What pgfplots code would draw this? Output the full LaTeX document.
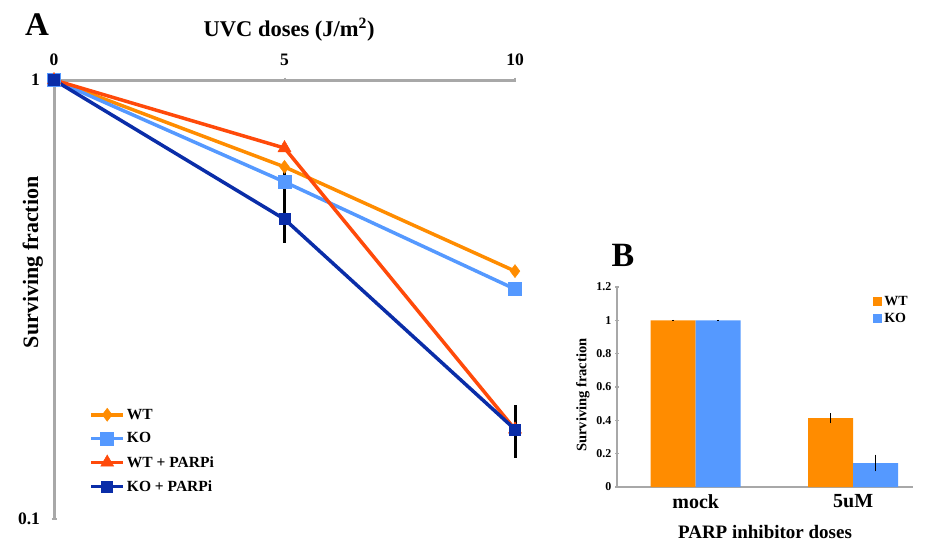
\documentclass[border=0pt]{standalone}
\usepackage{fontspec}
\setmainfont{Liberation Serif}
\usepackage{pgfplots}
\pgfplotsset{compat=1.18}
\definecolor{wt}{HTML}{FF8C00}
\definecolor{ko}{HTML}{5599FF}
\definecolor{wtp}{HTML}{FF4A0A}
\definecolor{kop}{HTML}{0A2DA8}
\definecolor{axgray}{HTML}{A8A8A8}
\begin{document}
\begin{tikzpicture}
\useasboundingbox (0pt,0pt) rectangle (926pt,-545pt);
\node[font=\fontsize{33}{33}\selectfont\bfseries] at (37pt,-25pt) {A};
\node[font=\fontsize{34}{34}\selectfont\bfseries] at (623pt,-255pt) {B};
% ---------------- Panel A
\begin{axis}[
  at={(54pt,-80pt)}, anchor=north west,
  scale only axis, width=461pt, height=439pt,
  clip=false,
  xmin=0, xmax=10, ymode=log, ymin=0.1, ymax=1,
  axis x line=top, axis y line=left,
  axis line style={axgray, line width=3pt, -},
  xtick={0,5,10}, ytick={0.1,1}, yticklabels={0.1,1},
  yminorticks=false,
  tick style={axgray, line width=2pt},
  major tick length=5pt,
  /pgf/number format/assume math mode=true,
  tick label style={font=\fontsize{17.5}{17.5}\selectfont\bfseries},
  xticklabel style={yshift=8pt},
  yticklabel style={xshift=-8pt},
  xlabel={UVC doses (J/m\textsuperscript{2})},
  xlabel style={font=\fontsize{22.5}{22.5}\selectfont\bfseries, at={(axis description cs:0.51,1.115)}, anchor=center},
  ylabel={Surviving fraction},
  ylabel style={font=\fontsize{22}{22}\selectfont\bfseries, at={(axis description cs:-0.046,0.585)}, anchor=center, rotate=0},
  legend style={at={(axis description cs:0.07,0.05)}, anchor=south west, draw=none, fill=none,
    font=\fontsize{15.5}{15.5}\selectfont\bfseries, row sep=8pt},
  legend cell align=left,
  legend image code/.code={\draw[mark repeat=2,mark phase=2] plot coordinates {(0pt,0pt)(16pt,0pt)(32pt,0pt)};},
  every axis plot/.append style={line width=3.5pt},
]
\addplot[color=wt, mark=diamond*, mark size=6.5pt, mark options={solid, line width=0.5pt}] coordinates {(0,1)(5,0.634)(10,0.367)};
\addlegendentry{WT}
\addplot[color=ko, mark=square*, mark size=6.5pt, mark options={solid, line width=0.5pt},
  error bars/.cd, y dir=both, y explicit, error mark=none, error bar style={black, line width=3pt}]
  coordinates {(0,1) +- (0,0) (5,0.586) +- (0,0.04) (10,0.334) +- (0,0)};
\addlegendentry{KO}
\addplot[color=wtp, mark=triangle*, mark size=7.5pt, mark options={solid, line width=0.5pt}] coordinates {(0,1)(5,0.700)(10,0.160)};
\addlegendentry{WT + PARPi}
\addplot[color=kop, mark=square*, mark size=5.5pt, mark options={solid, line width=0.5pt},
  error bars/.cd, y dir=both, y explicit, error mark=none, error bar style={black, line width=3pt}]
  coordinates {(0,1) +- (0,0) (5,0.482) += (0,0.065) -= (0,0.057) (10,0.160) +- (0,0.022)};
\addlegendentry{KO + PARPi}
\end{axis}
% ---------------- Panel B
\begin{axis}[
  at={(617pt,-487pt)}, anchor=south west,
  scale only axis, width=296pt, height=200pt,
  ybar=0pt, bar width=45pt,
  xmin=-0.5, xmax=1.38, ymin=0, ymax=1.2,
  axis x line=bottom, axis y line=left,
  axis line style={axgray, line width=2.5pt, -},
  xtick={0,1}, xticklabels={mock,5uM},
  x tick style={draw=none},
  extra x ticks={0.5}, extra x tick labels={},
  extra x tick style={tick style={axgray, line width=1.5pt}},
  ytick={0,0.2,0.4,0.6,0.8,1,1.2}, yticklabels={0,0.2,0.4,0.6,0.8,1,1.2},
  y tick style={axgray, line width=1.5pt},
  major tick length=4pt,
  /pgf/number format/assume math mode=true,
  yticklabel style={font=\fontsize{12}{12}\selectfont\bfseries},
  xticklabel style={font=\fontsize{20}{20}\selectfont\bfseries, yshift=-2pt},
  xlabel={PARP inhibitor doses},
  xlabel style={font=\fontsize{19}{19}\selectfont\bfseries, at={(axis description cs:0.5,-0.225)}, anchor=center},
  ylabel={Surviving fraction},
  ylabel style={font=\fontsize{14.5}{14.5}\selectfont\bfseries, at={(axis description cs:-0.115,0.46)}, anchor=center},
  legend style={at={(axis description cs:0.855,0.975)}, anchor=north west, draw=none, fill=none,
    font=\fontsize{14}{14}\selectfont\bfseries, row sep=2pt},
  legend cell align=left,
  legend image code/.code={\fill[#1, draw=none] (0pt,-4.5pt) rectangle (9pt,4.5pt);},
]
\addplot[fill=wt, draw=none, error bars/.cd, y dir=both, y explicit, error mark=none, error bar style={black, line width=1.5pt}]
  coordinates {(0,1.0) +- (0,0.003) (1,0.414) +- (0,0.03)};
\addlegendentry{WT}
\addplot[fill=ko, draw=none, error bars/.cd, y dir=both, y explicit, error mark=none, error bar style={black, line width=1.5pt}]
  coordinates {(0,1.0) +- (0,0.003) (1,0.144) +- (0,0.05)};
\addlegendentry{KO}
\end{axis}
\end{tikzpicture}
\end{document}
